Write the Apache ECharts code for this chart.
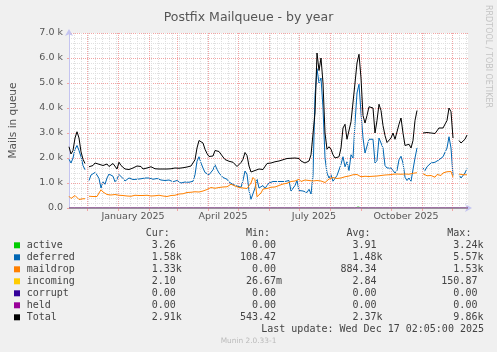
<!DOCTYPE html>
<html>
<head>
<meta charset="utf-8">
<script src="https://cdn.jsdelivr.net/npm/echarts@6.0.0/dist/echarts.min.js"></script>
<style>
html, body { margin: 0; padding: 0; background: #f0f0f0; }
#main { width: 497px; height: 352px; }
</style>
</head>
<body>
<div id="main"></div>
<script>
// x = days counted from 1 Dec 2024, one sample every 2 days
var dayStart = -18, dayStep = 2;

var totalVals = [
  2450, 2160, 2300, 2800, 3050, 2800, 2250, 1950, 1780, null,
  1650, 1720, 1700, 1800, 1850, 1750, 1790, 1700, 1740, 1760,
  1660, 1640, 1780, 1700, 1560, 1830, 1700, 1650, 1560, 1500,
  1540, 1620, 1600, 1620, 1680, 1700, 1660, 1560, 1590, 1600,
  1620, 1650, 1640, 1570, 1560, 1560, 1560, 1560, 1560, 1560,
  1560, 1570, 1580, 1600, 1600, 1590, 1600, 1610, 1620, 1640,
  1660, 1680, 1760, 1930, 2400, 2700, 2780, 2600, 2350, 2180,
  2060, 2030, 2080, 2300, 2380, 2260, 2280, 2040, 1940, 1900,
  1870, 1860, 1830, 1760, 1660, 1700, 1820, 1950, 2220, 2100,
  1680, 1440, 1470, 1500, 1480, 1560, 1600, 1540, 1560, 1780,
  1760, 1800, 1860, 1850, 1870, 1880, 1900, 1930, 1950, 1980,
  2050, 1990, 2020, 2000, 2060, 1980, 1880, 1840, 1800, 1820,
  1880, 2130, 2200, 3800, 6200, 5500, 6000, 5000, 3000, 2350,
  2450, 2350, 2130, 2000, 2000, 2050, 2400, 3200, 3350, 2750,
  2800, 3450, 3400, 5000, 5800, 6150, 5200, 3700, 3400, 3700,
  4050, 4030, 4000, 3000, 3500, 4150, 3900, 3300, 2900, 2620,
  2600, 2800, 3000, 2750, 2800, 3350, 3600, 3000, 2500, 2450,
  2550, 2400, 2700, 3500, 3900, null, null, 3000, 2930, 3020,
  2960, 3000, 3050, 2980, 3020, 3200, 3260, 3200, 3250, 3500,
  4000, 3850, 2800, null, null, 2700, 2600, 2530, 2750, 2920
];

var deferredVals = [
  1950, 1800, 2000, 2350, 2500, 2300, 2050, 1700, 1530, null,
  1100, 1320, 1400, 1420, 1320, 1180, 800, 1050, 950, 1200,
  1360, 1420, 1270, 1050, 1150, 1340, 1350, 1180, 1080, 1120,
  1200, 1160, 1140, 1180, 1150, 1130, 1170, 1150, 1200, 1170,
  1200, 1180, 1150, 1130, 1180, 1170, 1120, 1130, 1100, 1080,
  1120, 1130, 1050, 1000, 1100, 1050, 1000, 1080, 1040, 1060,
  1030, 1090, 1070, 1330, 1870, 2050, 1800, 1600, 1420, 1380,
  1330, 1300, 1530, 1730, 1550, 1400, 1380, 1220, 1180, 1150,
  1040, 980, 940, 930, 880, 860, 830, 1100, 1480, 1350,
  700, 350, 320, 800, 1150, 800, 850, 900, 780, 900,
  1000, 1050, 1060, 1060, 1060, 1060, 1060, 1060, 1060, 1070,
  1100, 680, 700, 900, 1100, 700, 750, 680, 650, 620,
  750, 560, 1300, 4500, 5570, 5000, 5200, 4000, 2000, 1400,
  1200, 1330, 1070, 1100, 1300, 1330, 1750, 2050, 1650, 1850,
  1500, 2130, 2000, 3400, 4600, 4950, 3800, 2800, 2200, 2150,
  2750, 2800, 2750, 1800, 1900, 2800, 2750, 2400, 1700, 1600,
  1650, 1600, 1500, 1400, 1500, 1930, 2070, 1800, 1230, 1100,
  1200, 1070, 1150, 2000, 2400, null, null, 1600, 1500, 1650,
  1700, 1800, 1750, 1830, 1850, 1930, 1900, 2050, 2100, 2400,
  2850, 2400, 1300, null, null, 1330, 1200, 1250, 1400, 1580
];

var maildropVals = [
  470, 380, 400, 500, 570, 340, 360, 370, 370, null,
  470, 450, 460, 480, 460, 600, 730, 640, 700, 540,
  530, 520, 500, 540, 500, 510, 520, 500, 490, 480,
  500, 470, 500, 510, 490, 500, 480, 500, 490, 510,
  500, 480, 470, 490, 480, 510, 500, 480, 470, 460,
  480, 500, 520, 510, 540, 560, 590, 570, 610, 620,
  640, 630, 660, 650, 690, 640, 700, 680, 730, 740,
  760, 820, 800, 790, 830, 820, 780, 840, 790, 850,
  880, 950, 940, 880, 860, 820, 760, 800, 750, 780,
  830, 1000, 1220, 1130, 450, 400, 600, 760, 740, 780,
  800, 830, 850, 840, 880, 900, 920, 960, 1000, 990,
  1040, 1060, 1050, 1080, 1120, 1150, 1060, 1100, 1120, 1190,
  1100, 1120, 1080, 1050, 1100, 1140, 1080, 1000, 1020, 1060,
  1160, 1120, 1220, 1240, 1180, 1250, 1200, 1230, 1250, 1270,
  1280, 1300, 1330, 1350, 1340, 1300, 1250, 1230, 1270, 1280,
  1260, 1290, 1270, 1300, 1280, 1310, 1300, 1330, 1320, 1340,
  1330, 1360, 1350, 1340, 1360, 1340, 1350, 1370, 1360, 1380,
  1350, 1370, 1390, 1400, 1410, null, null, 1370, 1360, 1290,
  1350, 1300, 1280, 1230, 1340, 1330, 1300, 1400, 1420, 1450,
  1430, 1460, 1230, null, null, 1360, 1300, 1330, 1290, 1330
];

var activeDays = [-18, 174, 176, 178, 268, 271, 273, 275, 277, 279, 381];
var activeVals = [0, 0, 40, 0, 0, 40, 0, 0, 40, 0, 0];

var flatDays = [-18, 381];
var incomingVals = [0, 0];
var corruptVals = [0, 0];
var heldVals = [0, 0];

var monthStarts = [0, 31, 62, 90, 121, 151, 182, 212, 243, 274, 304, 335, 365];
var monthLabelDays = [46, 136, 227, 319];
var monthLabels = ['January 2025', 'April 2025', 'July 2025', 'October 2025'];

var seriesNames = ['active', 'deferred', 'maildrop', 'incoming', 'corrupt', 'held', 'Total'];
var seriesColors = ['#00cc00', '#0066b3', '#ff8000', '#ffcc00', '#330099', '#990099', '#000000'];
var curVals = ['3.26', '1.58k', '1.33k', '2.10', '0.00', '0.00', '2.91k'];
var minVals = ['0.00', '108.47', '0.00', '26.67m', '0.00', '0.00', '543.42'];
var avgVals = ['3.91', '1.48k', '884.34', '2.84', '0.00', '0.00', '2.37k'];
var maxVals = ['3.24k', '5.57k', '1.53k', '150.87', '0.00', '0.00', '9.86k'];

var days = totalVals.map(function (v, i) { return dayStart + dayStep * i; });

function pairs(xs, ys) {
  return xs.map(function (x, i) { return [x, ys[i] === null ? '-' : ys[i]]; });
}

function lineSeries(name, color, xs, ys, z) {
  return {
    name: name, type: 'line', data: pairs(xs, ys),
    showSymbol: false, symbol: 'none', connectNulls: false,
    lineStyle: { color: color, width: 1 }, itemStyle: { color: color },
    z: z, silent: true, animation: false
  };
}

// vertical grid: weekly (Mondays) grey, monthly red
var gridLines = [];
for (var d = -13; d < 381; d += 7) {
  gridLines.push({ xAxis: d, lineStyle: { color: '#dedede', type: [1, 1], width: 1 } });
}
monthStarts.forEach(function (m) {
  gridLines.push({ xAxis: m, lineStyle: { color: '#f2a4a4', type: [1, 1], width: 1 } });
});

var chart = echarts.init(document.getElementById('main'));

var mono = '10px "DejaVu Sans Mono"';
var textColor = '#444';
var graphics = [];
var colX = [139.7, 240, 340.5, 441.3];
var charW = 6.02;
var headers = ['Cur:', 'Min:', 'Avg:', 'Max:'];
headers.forEach(function (h, c) {
  graphics.push({ type: 'text', x: colX[c] + charW, y: 233.5,
    style: { text: h, font: mono, fill: textColor, align: 'left', verticalAlign: 'middle' } });
});
var cols = [curVals, minVals, avgVals, maxVals];
seriesNames.forEach(function (name, r) {
  var y = 245.3 + 12 * r;
  graphics.push({ type: 'rect', shape: { x: 14, y: y - 3, width: 6, height: 6 },
    style: { fill: seriesColors[r] } });
  graphics.push({ type: 'text', x: 26.7, y: y,
    style: { text: name, font: mono, fill: textColor, align: 'left', verticalAlign: 'middle' } });
  cols.forEach(function (col, c) {
    var m = col[r].match(/^([\d.]+)([a-zA-Z]?)$/);
    var xe = colX[c] + charW * 6;
    graphics.push({ type: 'text', x: xe, y: y,
      style: { text: m[1], font: mono, fill: textColor, align: 'right', verticalAlign: 'middle' } });
    if (m[2]) {
      graphics.push({ type: 'text', x: xe, y: y,
        style: { text: m[2], font: mono, fill: textColor, align: 'left', verticalAlign: 'middle' } });
    }
  });
});
graphics.push({ type: 'text', x: 484, y: 329.3,
  style: { text: 'Last update: Wed Dec 17 02:05:00 2025', font: mono, fill: textColor, align: 'right', verticalAlign: 'middle' } });
graphics.push({ type: 'text', x: 248.5, y: 341.3,
  style: { text: 'Munin 2.0.33-1', font: '7.4px "DejaVu Sans"', fill: '#bbbbbb', align: 'center', verticalAlign: 'middle' } });
graphics.push({ type: 'text', x: 488.3, y: 5, rotation: -Math.PI / 2,
  style: { text: 'RRDTOOL / TOBI OETIKER', font: '8px "DejaVu Sans"', fill: '#c4c4c4', align: 'left', verticalAlign: 'middle' } });

var option = {
  backgroundColor: '#f0f0f0',
  animation: false,
  title: {
    text: 'Postfix Mailqueue - by year', left: 'center', top: 6,
    textStyle: { fontFamily: 'DejaVu Sans', fontSize: 12.5, fontWeight: 'normal', color: '#555' }
  },
  grid: { left: 67, top: 33, right: 29, bottom: 144, show: true, backgroundColor: '#ffffff', borderWidth: 0 },
  xAxis: {
    type: 'value', min: -18, max: 381,
    axisLine: { show: true, onZero: false, lineStyle: { color: '#c4c4f0' },
      symbol: ['none', 'arrow'], symbolSize: [6, 7], symbolOffset: [0, 4] },
    axisTick: { show: true, customValues: monthStarts, length: 3, lineStyle: { color: '#f2a4a4' } },
    axisLabel: {
      customValues: monthLabelDays,
      formatter: function (v) { return monthLabels[monthLabelDays.indexOf(v)]; },
      fontFamily: 'DejaVu Sans', fontSize: 9.5, color: '#555', margin: 4
    },
    splitLine: { show: false }
  },
  yAxis: {
    type: 'value', min: 0, max: 7000, interval: 1000,
    name: 'Mails in queue', nameLocation: 'middle', nameGap: 50,
    nameTextStyle: { fontFamily: 'DejaVu Sans', fontSize: 10.5, color: '#555' },
    axisLine: { show: true, onZero: false, lineStyle: { color: '#c4c4f0' },
      symbol: ['none', 'arrow'], symbolSize: [6, 7], symbolOffset: [0, 4] },
    axisTick: { show: true, length: 2, lineStyle: { color: '#f2a4a4' } },
    axisLabel: {
      fontFamily: 'DejaVu Sans', fontSize: 9.5, color: '#555', margin: 6,
      formatter: function (v) { return v === 0 ? '0.0' : (v / 1000).toFixed(1) + ' k'; }
    },
    splitLine: { show: true, lineStyle: { color: '#f2a4a4', type: [1, 1] } },
    minorTick: { show: false, splitNumber: 5 },
    minorSplitLine: { show: true, lineStyle: { color: '#e0e0e0', type: [1, 1] } }
  },
  graphic: graphics,
  series: [
    {
      type: 'line', data: [[-18, 0]], symbol: 'none', lineStyle: { width: 0 }, z: 1, silent: true,
      markLine: { silent: true, symbol: ['none', 'none'], label: { show: false }, animation: false, data: gridLines }
    },
    lineSeries(seriesNames[0], seriesColors[0], activeDays, activeVals, 3),
    lineSeries(seriesNames[1], seriesColors[1], days, deferredVals, 4),
    lineSeries(seriesNames[2], seriesColors[2], days, maildropVals, 5),
    lineSeries(seriesNames[3], seriesColors[3], flatDays, incomingVals, 6),
    lineSeries(seriesNames[4], seriesColors[4], flatDays, corruptVals, 7),
    lineSeries(seriesNames[5], '#c27bd6', flatDays, heldVals, 8),
    lineSeries(seriesNames[6], seriesColors[6], days, totalVals, 9)
  ]
};

chart.setOption(option);
</script>
</body>
</html>
